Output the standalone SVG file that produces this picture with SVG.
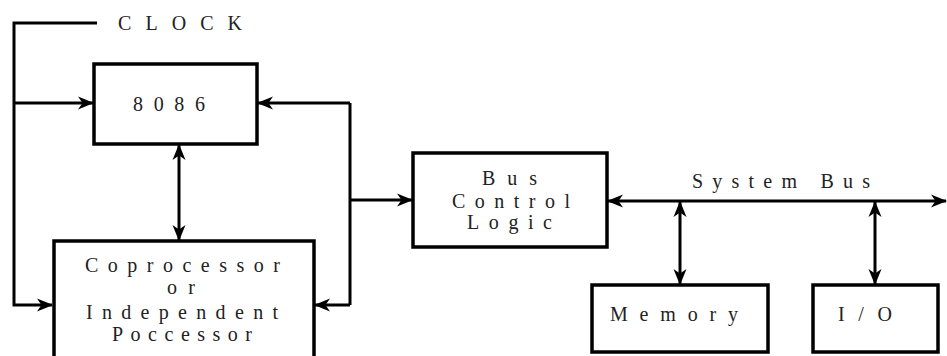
<svg xmlns="http://www.w3.org/2000/svg" width="947" height="356" viewBox="0 0 947 356">
<style>
  .box { fill: #ffffff; stroke: #000; stroke-width: 3.5; }
  .line { fill: none; stroke: #000; stroke-width: 3; }
  .lbl { font-family: "Liberation Serif", "Times New Roman", serif; font-size: 20px; fill: #222; }
</style>
<defs>
  <marker id="arr" markerUnits="userSpaceOnUse" markerWidth="16" markerHeight="14" viewBox="0 0 16 14" refX="15" refY="7" orient="auto-start-reverse">
    <path d="M0,0.5 L16,7 L0,13.5 L4.5,7 Z" fill="#000"/>
  </marker>
</defs>
<rect width="947" height="356" fill="#ffffff"/>

<g id="connectors">
  <path class="line" d="M97,23 H14 V305 H52" marker-end="url(#arr)"/>
  <path class="line" d="M14,103 H93" marker-end="url(#arr)"/>
  <path class="line" d="M350,103 V305"/>
  <path class="line" d="M350,103 H258" marker-end="url(#arr)"/>
  <path class="line" d="M350,305 H315" marker-end="url(#arr)"/>
  <path class="line" d="M350,200 H412" marker-end="url(#arr)"/>
  <path class="line" d="M179,145 V240" marker-start="url(#arr)" marker-end="url(#arr)"/>
  <path class="line" d="M608,201 H946" marker-start="url(#arr)" marker-end="url(#arr)"/>
  <path class="line" d="M680,202 V284" marker-start="url(#arr)" marker-end="url(#arr)"/>
  <path class="line" d="M875,202 V284" marker-start="url(#arr)" marker-end="url(#arr)"/>
</g>

<g id="clock">
  <text class="lbl" x="118" y="30" textLength="124" lengthAdjust="spacing">CLOCK</text>
</g>

<g id="cpu8086">
  <rect class="box" x="94" y="64" width="163" height="80"/>
  <text class="lbl" x="133" y="111" textLength="72" lengthAdjust="spacing">8086</text>
</g>

<g id="coprocessor">
  <rect class="box" x="54" y="241" width="260" height="125"/>
  <text class="lbl" x="85" y="272" textLength="195" lengthAdjust="spacing">Coprocessor</text>
  <text class="lbl" x="167" y="294" textLength="28" lengthAdjust="spacing">or</text>
  <text class="lbl" x="86" y="319" textLength="192" lengthAdjust="spacing">Independent</text>
  <text class="lbl" x="112" y="341" textLength="140" lengthAdjust="spacing">Poccessor</text>
</g>

<g id="busControl">
  <rect class="box" x="413" y="153" width="194" height="94"/>
  <text class="lbl" x="482" y="185" textLength="55" lengthAdjust="spacing">Bus</text>
  <text class="lbl" x="452" y="208" textLength="118" lengthAdjust="spacing">Control</text>
  <text class="lbl" x="467" y="229" textLength="85" lengthAdjust="spacing">Logic</text>
</g>

<g id="systemBusLabel">
  <text class="lbl" x="692" y="188" textLength="178" lengthAdjust="spacing">System Bus</text>
</g>

<g id="memory">
  <rect class="box" x="592" y="285" width="176" height="67"/>
  <text class="lbl" x="610" y="321" textLength="128" lengthAdjust="spacing">Memory</text>
</g>

<g id="io">
  <rect class="box" x="813" y="285" width="125" height="67"/>
  <text class="lbl" x="838" y="321" textLength="54" lengthAdjust="spacing">I/O</text>
</g>
</svg>
